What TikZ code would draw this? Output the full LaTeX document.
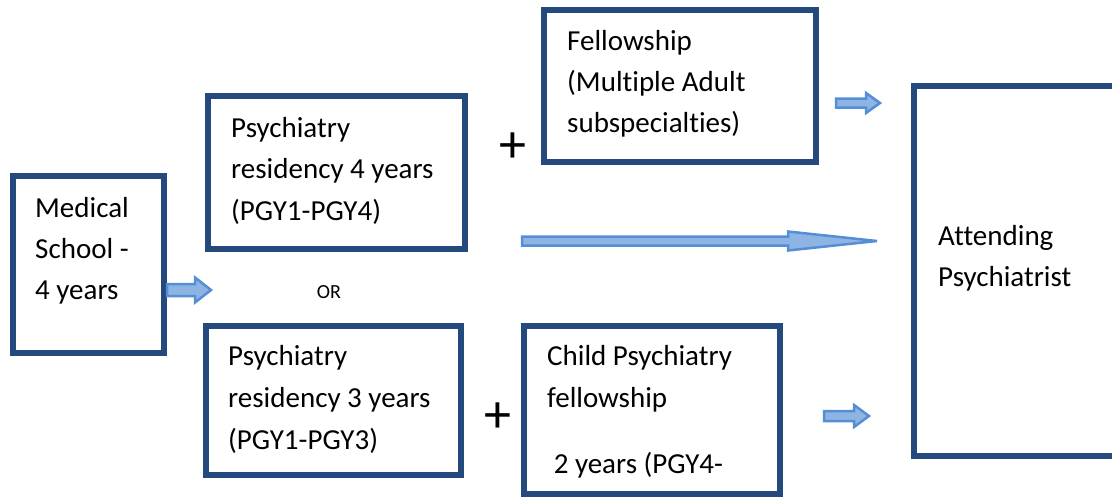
\documentclass[tikz,border=0pt]{standalone}
\usepackage{fontspec}
\setmainfont{Carlito}[Ligatures={NoCommon}]
\definecolor{boxblue}{RGB}{36,74,125}
\definecolor{arrline}{RGB}{85,142,213}
\definecolor{arrfill}{RGB}{142,180,227}
\tikzset{
  box/.style={draw=boxblue, line width=6.5pt, rectangle, inner sep=0pt, outer sep=0pt},
  txt/.style={anchor=base west, inner sep=0pt, font=\fontsize{29}{42}\selectfont},
  blkarrow/.style={draw=arrline, fill=arrfill, line width=2.5pt, line join=miter, miter limit=3},
}
% #1 shaft start x, #2 head start x, #3 tip x, #4 centre y, #5 shaft half, #6 head half
\newcommand\blkarr[6]{%
  \draw[blkarrow] (#1,#4-#5) -- (#2,#4-#5) -- (#2,#4-#6) -- (#3,#4) -- (#2,#4+#6) -- (#2,#4+#5) -- (#1,#4+#5) -- cycle;}
\begin{document}
\begin{tikzpicture}[x=1pt,y=-1pt]
\useasboundingbox (0,0) rectangle (1112,498);
\begin{scope}
\clip (0,0) rectangle (1112,498);
% boxes
\node[box, minimum width=151pt, minimum height=177pt] (med) at (88.5,264.5) {};
\node[box, minimum width=257pt, minimum height=153pt] (p4) at (336.5,172.5) {};
\node[box, minimum width=272pt, minimum height=152pt] (fel) at (680,86) {};
\node[box, minimum width=211pt, minimum height=370pt] (att) at (1019.5,271) {};
\node[box, minimum width=255pt, minimum height=149pt] (p3) at (333.5,400.5) {};
\node[box, minimum width=256pt, minimum height=168pt] (child) at (652,410) {};
\end{scope}
% texts
\node[txt] (med1) at (35,217) {Medical};
\node[txt] (med2) at (35,258) {School -};
\node[txt] (med3) at (35,299) {4 years};
\node[txt] (p41) at (231,137) {Psychiatry};
\node[txt] (p42) at (231,178) {residency 4 years};
\node[txt] (p43) at (231,220) {(PGY1-PGY4)};
\node[txt] (fel1) at (567,50) {Fellowship};
\node[txt] (fel2) at (567,91) {(Multiple Adult};
\node[txt] (fel3) at (567,132) {subspecialties)};
\node[txt] (att1) at (938,245) {Attending};
\node[txt] (att2) at (938,286) {Psychiatrist};
\node[txt] (p31) at (228,365) {Psychiatry};
\node[txt] (p32) at (228,407) {residency 3 years};
\node[txt] (p33) at (228,449) {(PGY1-PGY3)};
\node[txt] (ch1) at (547,365) {Child Psychiatry};
\node[txt] (ch2) at (547,407) {fellowship};
\node[txt] (ch3) at (547,473) {\ 2 years (PGY4-};
\node[anchor=center, inner sep=0pt, font=\fontsize{20}{24}\selectfont] (or) at (329,292) {OR};
\node[anchor=center, inner sep=0pt, font=\fontsize{54}{60}\selectfont] (plus1) at (513,148) {+};
\node[anchor=center, inner sep=0pt, font=\fontsize{54}{60}\selectfont] (plus2) at (498,418) {+};
% block arrows
\blkarr{167}{195}{211}{290}{6}{12.5}
\blkarr{522}{788}{877}{241}{4.5}{9.5}
\blkarr{836}{866}{880}{103}{4.5}{10}
\blkarr{824}{854}{869}{416}{5}{11}
\end{tikzpicture}
\end{document}
